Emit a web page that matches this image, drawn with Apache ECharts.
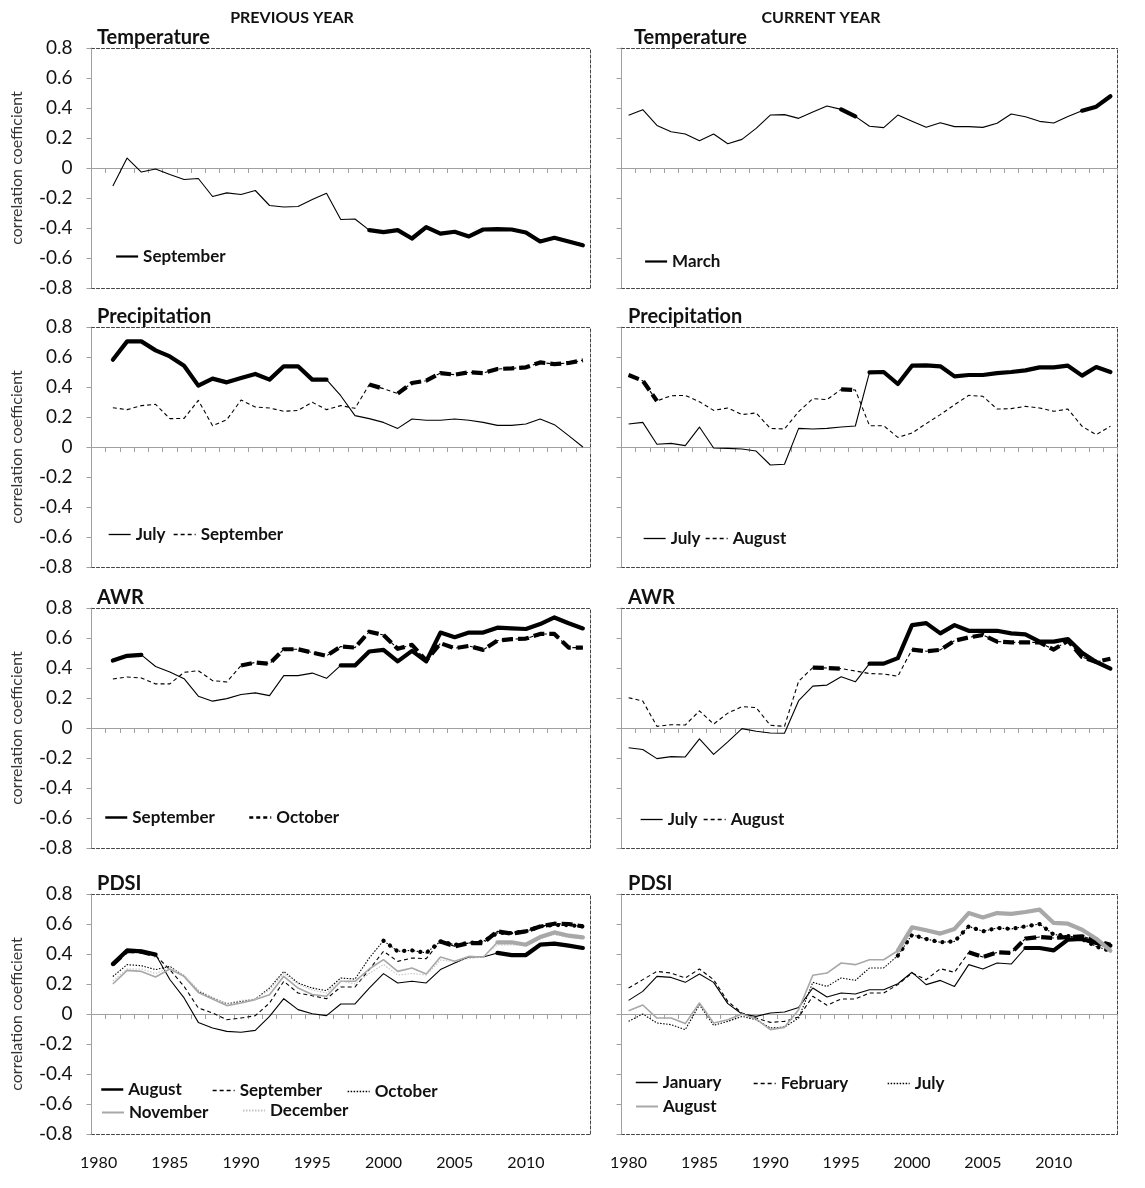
<!DOCTYPE html>
<html>
<head>
<meta charset="utf-8">
<script src="https://cdn.jsdelivr.net/npm/echarts@6/dist/echarts.min.js"></script>
<style>
html, body { margin: 0; padding: 0; background: #fff; }
#chart { width: 1145px; height: 1188px; }
</style>
</head>
<body>
<div id="chart"></div>
<script>
// categories
var years = ['1980','1981','1982','1983','1984','1985','1986','1987','1988','1989',
             '1990','1991','1992','1993','1994','1995','1996','1997','1998','1999',
             '2000','2001','2002','2003','2004','2005','2006','2007','2008','2009',
             '2010','2011','2012','2013','2014'];

// previous year series start in 1981, current year series in 1980
var tempPrevSep = [-0.12, 0.066, -0.027, -0.007, -0.044, -0.077, -0.07, -0.19, -0.166, -0.177,
                   -0.15, -0.25, -0.26, -0.257, -0.21, -0.168, -0.343, -0.34, -0.414, -0.427,
                   -0.414, -0.47, -0.394, -0.438, -0.425, -0.456, -0.41, -0.407, -0.41, -0.43,
                   -0.49, -0.465, -0.49, -0.515];
var tempCurMar = [0.351, 0.389, 0.284, 0.242, 0.227, 0.182, 0.227, 0.162, 0.191, 0.264,
                  0.353, 0.356, 0.331, 0.373, 0.413, 0.391, 0.344, 0.278, 0.269, 0.353,
                  0.311, 0.271, 0.302, 0.276, 0.276, 0.271, 0.298, 0.36, 0.342, 0.311,
                  0.3, 0.344, 0.382, 0.409, 0.478];

var precPrevJul = [0.582, 0.704, 0.704, 0.644, 0.604, 0.542, 0.409, 0.456, 0.431, 0.46,
                   0.487, 0.449, 0.538, 0.538, 0.449, 0.449, 0.342, 0.209, 0.189, 0.164,
                   0.124, 0.187, 0.178, 0.178, 0.187, 0.178, 0.164, 0.144, 0.144, 0.153,
                   0.187, 0.149, 0.076, 0.0];
var precPrevSep = [0.262, 0.249, 0.276, 0.284, 0.189, 0.191, 0.311, 0.142, 0.182, 0.313,
                   0.267, 0.26, 0.238, 0.244, 0.298, 0.249, 0.276, 0.258, 0.416, 0.389,
                   0.356, 0.427, 0.442, 0.493, 0.482, 0.498, 0.493, 0.52, 0.524, 0.531,
                   0.564, 0.553, 0.56, 0.578];
var precCurJul = [0.153, 0.164, 0.018, 0.024, 0.009, 0.133, -0.007, -0.009, -0.013, -0.027,
                  -0.12, -0.115, 0.124, 0.12, 0.124, 0.133, 0.14, 0.498, 0.5, 0.42,
                  0.542, 0.544, 0.538, 0.471, 0.48, 0.48, 0.493, 0.5, 0.511, 0.531,
                  0.531, 0.542, 0.476, 0.533, 0.5];
var precCurAug = [0.48, 0.442, 0.307, 0.342, 0.344, 0.302, 0.244, 0.26, 0.216, 0.227,
                  0.124, 0.12, 0.236, 0.322, 0.316, 0.384, 0.38, 0.142, 0.142, 0.064,
                  0.093, 0.156, 0.216, 0.282, 0.344, 0.338, 0.253, 0.256, 0.271, 0.26,
                  0.238, 0.253, 0.138, 0.082, 0.138];

var awrPrevSep = [0.45, 0.481, 0.488, 0.41, 0.373, 0.329, 0.212, 0.179, 0.196, 0.223,
                  0.234, 0.216, 0.349, 0.349, 0.366, 0.331, 0.417, 0.417, 0.51, 0.521,
                  0.444, 0.514, 0.444, 0.636, 0.605, 0.636, 0.636, 0.669, 0.664, 0.66,
                  0.693, 0.737, 0.698, 0.664];
var awrPrevOct = [0.327, 0.34, 0.333, 0.294, 0.294, 0.371, 0.382, 0.316, 0.307, 0.417,
                  0.437, 0.428, 0.525, 0.525, 0.503, 0.481, 0.543, 0.536, 0.642, 0.62,
                  0.528, 0.554, 0.45, 0.565, 0.532, 0.547, 0.521, 0.583, 0.592, 0.596,
                  0.627, 0.627, 0.536, 0.536];
var awrCurJul = [-0.132, -0.143, -0.204, -0.191, -0.193, -0.073, -0.176, -0.092, -0.004, -0.022,
                 -0.033, -0.035, 0.182, 0.279, 0.286, 0.341, 0.308, 0.429, 0.429, 0.466,
                 0.686, 0.699, 0.631, 0.686, 0.648, 0.648, 0.648, 0.631, 0.624, 0.576,
                 0.576, 0.593, 0.501, 0.44, 0.396];
var awrCurAug = [0.202, 0.18, 0.011, 0.022, 0.02, 0.114, 0.026, 0.099, 0.143, 0.136,
                 0.018, 0.011, 0.312, 0.402, 0.4, 0.396, 0.38, 0.363, 0.36, 0.345,
                 0.523, 0.512, 0.521, 0.582, 0.604, 0.62, 0.576, 0.571, 0.571, 0.571,
                 0.523, 0.582, 0.473, 0.44, 0.462];

var pdsiPrevAug = [0.333, 0.424, 0.418, 0.396, 0.23, 0.107, -0.056, -0.093, -0.116, -0.122,
                   -0.109, -0.016, 0.102, 0.029, 0.002, -0.011, 0.067, 0.067, 0.173, 0.269,
                   0.207, 0.218, 0.207, 0.296, 0.34, 0.38, 0.38, 0.407, 0.393, 0.393,
                   0.462, 0.469, 0.456, 0.44];
var pdsiPrevSep = [0.33, 0.42, 0.415, 0.39, 0.296, 0.184, 0.04, 0.007, -0.038, -0.027,
                   -0.011, 0.073, 0.218, 0.14, 0.122, 0.102, 0.18, 0.18, 0.296, 0.418,
                   0.351, 0.373, 0.369, 0.484, 0.451, 0.473, 0.473, 0.551, 0.536, 0.551,
                   0.584, 0.602, 0.6, 0.584];
var pdsiPrevOct = [0.25, 0.329, 0.322, 0.296, 0.318, 0.251, 0.151, 0.107, 0.069, 0.084,
                   0.1, 0.173, 0.284, 0.207, 0.173, 0.156, 0.24, 0.233, 0.373, 0.489,
                   0.418, 0.424, 0.407, 0.484, 0.462, 0.473, 0.484, 0.54, 0.54, 0.551,
                   0.584, 0.593, 0.593, 0.584];
var pdsiPrevNov = [0.2, 0.291, 0.284, 0.247, 0.3, 0.251, 0.144, 0.1, 0.056, 0.073,
                   0.096, 0.129, 0.251, 0.173, 0.13, 0.118, 0.218, 0.218, 0.3, 0.362,
                   0.284, 0.307, 0.267, 0.38, 0.351, 0.384, 0.378, 0.478, 0.478, 0.462,
                   0.513, 0.544, 0.522, 0.511];
var pdsiPrevDec = [0.22, 0.3, 0.3, 0.27, 0.31, 0.26, 0.16, 0.11, 0.07, 0.09,
                   0.1, 0.16, 0.27, 0.2, 0.16, 0.14, 0.22, 0.2, 0.27, 0.33,
                   0.26, 0.27, 0.26, 0.36, 0.35, 0.37, 0.38, 0.46, 0.46, 0.46,
                   0.5, 0.53, 0.51, 0.5];
var pdsiCurJan = [0.091, 0.151, 0.251, 0.244, 0.211, 0.267, 0.211, 0.069, 0.0, -0.016,
                  0.007, 0.013, 0.044, 0.173, 0.113, 0.14, 0.133, 0.162, 0.162, 0.202,
                  0.278, 0.196, 0.224, 0.184, 0.329, 0.3, 0.34, 0.333, 0.44, 0.44,
                  0.424, 0.496, 0.5, 0.473, 0.456];
var pdsiCurFeb = [0.173, 0.229, 0.284, 0.273, 0.24, 0.3, 0.229, 0.084, 0.007, -0.027,
                  -0.056, -0.049, -0.02, 0.118, 0.058, 0.1, 0.1, 0.14, 0.14, 0.196,
                  0.273, 0.229, 0.302, 0.278, 0.411, 0.38, 0.411, 0.407, 0.502, 0.513,
                  0.507, 0.513, 0.518, 0.489, 0.462];
var pdsiCurJul = [-0.049, 0.0, -0.06, -0.071, -0.104, 0.062, -0.076, -0.049, -0.016, -0.038,
                  -0.093, -0.087, -0.027, 0.211, 0.184, 0.24, 0.224, 0.307, 0.307, 0.389,
                  0.529, 0.5, 0.478, 0.484, 0.584, 0.551, 0.573, 0.567, 0.584, 0.6,
                  0.53, 0.52, 0.5, 0.45, 0.42];
var pdsiCurAug = [0.022, 0.06, -0.027, -0.027, -0.064, 0.073, -0.06, -0.038, 0.0, -0.033,
                  -0.104, -0.089, 0.029, 0.258, 0.273, 0.34, 0.329, 0.362, 0.362, 0.422,
                  0.578, 0.558, 0.536, 0.567, 0.673, 0.644, 0.673, 0.667, 0.68, 0.696,
                  0.607, 0.602, 0.562, 0.502, 0.422];

// significant (bold) periods, [from, to]
var sigTempPrevSep = [[1999, 2014]];
var sigTempCurMar = [[1995, 1996], [2012, 2014]];
var sigPrecPrevJul = [[1981, 1996]];
var sigPrecPrevSep = [[1999, 2000], [2001, 2014]];
var sigPrecCurJul = [[1997, 2014]];
var sigPrecCurAug = [[1980, 1982], [1995, 1996]];
var sigAwrPrevSep = [[1981, 1983], [1997, 2014]];
var sigAwrPrevOct = [[1990, 2014]];
var sigAwrCurJul = [[1997, 2014]];
var sigAwrCurAug = [[1993, 1995], [2000, 2014]];
var sigPdsiPrevAug = [[1981, 1984], [2008, 2014]];
var sigPdsiPrevSep = [[1981, 1984], [2004, 2014]];
var sigPdsiPrevOct = [[2000, 2014]];
var sigPdsiPrevNov = [[2008, 2014]];
var sigPdsiCurJan = [[2008, 2014]];
var sigPdsiCurFeb = [[2004, 2014]];
var sigPdsiCurJul = [[1999, 2014]];
var sigPdsiCurAug = [[1999, 2014]];

var FONT = 'Lato, "Open Sans", sans-serif';
var BLACK = '#000';
var GREY = '#a8a8a8';
var LIGHT = '#c4c4c4';

// line styles: thin dash and bold dash
var DASH = {
  solid:  { thin: 'solid', bold: 'solid', cap: 'round' },
  dashed: { thin: [4, 3], bold: [11, 5], cap: 'butt' },
  dotted: { thin: [1.5, 1.5], bold: [0.1, 8], cap: 'round' }
};

var colLeft = [91.5, 621.5];
var colWidth = [498.5, 496];
var rowTop = [48, 327, 608, 894];
var PH = 240;

var panels = [
  { title: 'Temperature', col: 0, row: 0,
    lines: [{ key: 'September', data: tempPrevSep, style: 'solid', color: BLACK, sig: sigTempPrevSep }],
    legend: [{ key: 'September', x: 115, y: 258, w: 2.2 }] },
  { title: 'Temperature', col: 1, row: 0, tx: 634,
    lines: [{ key: 'March', data: tempCurMar, style: 'solid', color: BLACK, sig: sigTempCurMar }],
    legend: [{ key: 'March', x: 644, y: 263, w: 2.2 }] },
  { title: 'Precipitation', col: 0, row: 1,
    lines: [{ key: 'July', data: precPrevJul, style: 'solid', color: BLACK, sig: sigPrecPrevJul },
            { key: 'September', data: precPrevSep, style: 'dashed', color: BLACK, sig: sigPrecPrevSep }],
    legend: [{ key: 'July', x: 108, y: 536, w: 1.3 }, { key: 'September', x: 173, y: 536, w: 1.3 }] },
  { title: 'Precipitation', col: 1, row: 1,
    lines: [{ key: 'July', data: precCurJul, style: 'solid', color: BLACK, sig: sigPrecCurJul },
            { key: 'August', data: precCurAug, style: 'dashed', color: BLACK, sig: sigPrecCurAug }],
    legend: [{ key: 'July', x: 643, y: 540, w: 1.3 }, { key: 'August', x: 705, y: 540, w: 1.3 }] },
  { title: 'AWR', col: 0, row: 2,
    lines: [{ key: 'September', data: awrPrevSep, style: 'solid', color: BLACK, sig: sigAwrPrevSep },
            { key: 'October', data: awrPrevOct, style: 'dashed', color: BLACK, sig: sigAwrPrevOct }],
    legend: [{ key: 'September', x: 104, y: 819, w: 2.5 }, { key: 'October', x: 248, y: 819, w: 2.5 }] },
  { title: 'AWR', col: 1, row: 2,
    lines: [{ key: 'July', data: awrCurJul, style: 'solid', color: BLACK, sig: sigAwrCurJul },
            { key: 'August', data: awrCurAug, style: 'dashed', color: BLACK, sig: sigAwrCurAug }],
    legend: [{ key: 'July', x: 640, y: 821, w: 1.3 }, { key: 'August', x: 703, y: 821, w: 1.3 }] },
  { title: 'PDSI', col: 0, row: 3,
    lines: [{ key: 'August', data: pdsiPrevAug, style: 'solid', color: BLACK, sig: sigPdsiPrevAug },
            { key: 'September', data: pdsiPrevSep, style: 'dashed', color: BLACK, sig: sigPdsiPrevSep },
            { key: 'October', data: pdsiPrevOct, style: 'dotted', color: BLACK, sig: sigPdsiPrevOct },
            { key: 'November', data: pdsiPrevNov, style: 'solid', color: GREY, sig: sigPdsiPrevNov },
            { key: 'December', data: pdsiPrevDec, style: 'dotted', color: LIGHT, sig: [] }],
    legend: [{ key: 'August', x: 100, y: 1091, w: 2.5 }, { key: 'September', x: 212, y: 1092, w: 1.3 },
             { key: 'October', x: 347, y: 1093, w: 1.3 }, { key: 'November', x: 101, y: 1114, w: 2 },
             { key: 'December', x: 242, y: 1112, w: 2 }] },
  { title: 'PDSI', col: 1, row: 3,
    lines: [{ key: 'January', data: pdsiCurJan, style: 'solid', color: BLACK, sig: sigPdsiCurJan },
            { key: 'February', data: pdsiCurFeb, style: 'dashed', color: BLACK, sig: sigPdsiCurFeb },
            { key: 'July', data: pdsiCurJul, style: 'dotted', color: BLACK, sig: sigPdsiCurJul },
            { key: 'August', data: pdsiCurAug, style: 'solid', color: GREY, sig: sigPdsiCurAug }],
    legend: [{ key: 'January', x: 635, y: 1084, w: 1.5 }, { key: 'February', x: 753, y: 1085, w: 1.3 },
             { key: 'July', x: 887, y: 1085, w: 1.3 }, { key: 'August', x: 635, y: 1108, w: 2 }] }
];

function padYears(values, startYear) {
  var out = [];
  for (var k = 0; k < years.length; k++) {
    var idx = 1980 + k - startYear;
    out.push(idx >= 0 && idx < values.length ? values[idx] : null);
  }
  return out;
}

var grids = [], xAxes = [], yAxes = [], series = [], legends = [], graphics = [];
var AXIS_GREY = '#a0a0a0';
var BORDER = { color: '#444', width: 1, type: [3, 2] };

graphics.push({ type: 'text', x: 292, y: 18, style: { text: 'PREVIOUS YEAR', font: 'bold 16px ' + FONT, fill: '#111', textAlign: 'center', textVerticalAlign: 'middle' } });
graphics.push({ type: 'text', x: 821, y: 18, style: { text: 'CURRENT YEAR', font: 'bold 16px ' + FONT, fill: '#111', textAlign: 'center', textVerticalAlign: 'middle' } });

panels.forEach(function (p, i) {
  grids.push({ left: colLeft[p.col], top: rowTop[p.row], width: colWidth[p.col], height: PH });

  var cat = { type: 'category', data: years, gridIndex: i, boundaryGap: true, splitLine: { show: false } };
  // axis on the zero line
  xAxes.push(Object.assign({}, cat, {
    axisLine: { onZero: true, lineStyle: { color: AXIS_GREY, width: 1 } },
    axisTick: { show: true, interval: 0, length: 5, lineStyle: { color: AXIS_GREY } },
    axisLabel: { show: false }
  }));
  // dashed frame top / bottom
  xAxes.push(Object.assign({}, cat, {
    position: 'top',
    axisLine: { onZero: false, lineStyle: BORDER },
    axisTick: { show: false }, axisLabel: { show: false }
  }));
  xAxes.push(Object.assign({}, cat, {
    position: 'bottom',
    axisLine: { onZero: false, lineStyle: BORDER },
    axisTick: { show: false },
    axisLabel: { show: p.row === 3, interval: 4, margin: 21, fontSize: 16, color: '#111', fontFamily: FONT }
  }));

  yAxes.push({
    type: 'value', gridIndex: i, min: -0.8, max: 0.8, interval: 0.2,
    axisLine: { show: true, lineStyle: { color: AXIS_GREY } },
    axisTick: { show: true, length: 5, lineStyle: { color: AXIS_GREY } },
    splitLine: { show: false },
    axisLabel: {
      show: p.col === 0, fontSize: 19, color: '#111', fontFamily: FONT, margin: 19,
      formatter: function (v) { return String(Math.round(v * 10) / 10); }
    },
    name: p.col === 0 ? 'correlation coefficient' : '',
    nameLocation: 'middle', nameGap: 67,
    nameTextStyle: { fontSize: 16, color: '#333', fontFamily: FONT }
  });
  yAxes.push({
    type: 'value', gridIndex: i, position: 'right', min: -0.8, max: 0.8, interval: 0.2,
    axisLine: { show: true, lineStyle: BORDER },
    axisTick: { show: false }, axisLabel: { show: false }, splitLine: { show: false }
  });

  graphics.push({
    type: 'text', x: p.tx || (p.col === 0 ? 97 : 628), y: rowTop[p.row] - 10,
    style: { text: p.title, font: 'bold 20px ' + FONT, fill: '#111', textVerticalAlign: 'middle' }
  });

  var start = p.col === 0 ? 1981 : 1980;
  p.lines.forEach(function (ln) {
    var name = i + '|' + ln.key;
    var vals = padYears(ln.data, start);
    var d = DASH[ln.style];
    series.push({
      type: 'line', name: name, xAxisIndex: i * 3, yAxisIndex: i * 2,
      data: vals, symbol: 'none', silent: true, z: 2,
      itemStyle: { color: ln.color },
      lineStyle: { color: ln.color, width: ln.style === 'solid' && ln.color !== BLACK ? 1.6 : 1.1, type: d.thin, join: 'round' }
    });
    ln.sig.forEach(function (r, j) {
      var seg = vals.map(function (v, k) {
        var y = 1980 + k;
        return (y >= r[0] && y <= r[1]) ? v : null;
      });
      series.push({
        type: 'line', name: name + '#' + j, xAxisIndex: i * 3, yAxisIndex: i * 2,
        data: seg, symbol: 'none', silent: true, z: 3,
        itemStyle: { color: ln.color },
        lineStyle: { color: ln.color, width: 4.2, type: d.bold, cap: d.cap, join: 'round' }
      });
    });
  });

  p.legend.forEach(function (lg) {
    legends.push({
      left: lg.x, top: lg.y - 10, padding: 0, itemWidth: 22, itemHeight: 10, itemGap: 0,
      selectedMode: false,
      data: [{ name: i + '|' + lg.key, lineStyle: { width: lg.w }, itemStyle: { opacity: 0 } }],
      formatter: function (n) { return n.split('|')[1]; },
      textStyle: { fontSize: 17, fontWeight: 'bold', color: '#111', fontFamily: FONT }
    });
  });
});

var chart = echarts.init(document.getElementById('chart'), null, { renderer: 'canvas' });
chart.setOption({
  animation: false,
  backgroundColor: '#fff',
  grid: grids,
  xAxis: xAxes,
  yAxis: yAxes,
  series: series,
  legend: legends,
  graphic: graphics
});
</script>
</body>
</html>
